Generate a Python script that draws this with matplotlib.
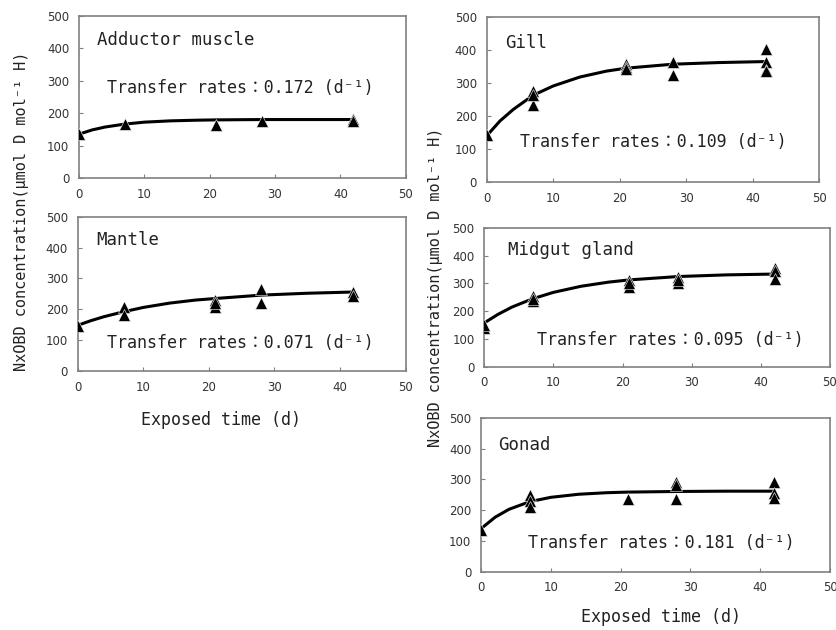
import matplotlib
matplotlib.use("Agg")
import matplotlib.pyplot as plt

# measured replicates (day, concentration)
adductor_t = [0, 7, 21, 28, 42, 42]
adductor_c = [134, 165, 162, 176, 181, 174]
gill_t = [0, 7, 7, 7, 21, 21, 21, 28, 28, 42, 42, 42, 42]
gill_c = [141, 277, 234, 264, 359, 350, 342, 364, 323, 404, 365, 340, 337]
mantle_t = [0, 7, 7, 21, 21, 21, 28, 28, 42, 42]
mantle_c = [145, 207, 183, 230, 207, 220, 266, 222, 257, 244]
midgut_t = [0, 0, 7, 7, 7, 21, 21, 21, 28, 28, 28, 42, 42, 42]
midgut_c = [140, 152, 254, 236, 244, 314, 289, 302, 323, 302, 313, 355, 344, 316]
gonad_t = [0, 7, 7, 7, 21, 28, 28, 28, 42, 42, 42]
gonad_c = [136, 249, 231, 210, 237, 292, 281, 235, 291, 257, 240]

# fitted curves
fit_t = [0, 2, 4, 7, 10, 14, 18, 21, 28, 35, 42]
adductor_fit = [135, 148, 157, 166, 172, 176, 178, 179, 180, 180, 180]
gill_fit = [140, 185, 220, 263, 291, 318, 336, 345, 357, 362, 365]
mantle_fit = [148, 163, 176, 192, 206, 220, 230, 235, 246, 252, 256]
midgut_fit = [158, 189, 215, 245, 268, 290, 305, 313, 325, 331, 334]
gonad_fit = [140, 177, 203, 228, 242, 252, 257, 259, 261, 262, 262]

rates = ["0.172", "0.109", "0.071", "0.095", "0.181"]
tissues = ["Adductor muscle", "Gill", "Mantle", "Midgut gland", "Gonad"]

mono = ["DejaVu Sans Mono", "Noto Sans CJK JP"]
tickfont = ["Liberation Sans Narrow", "DejaVu Sans"]

fig = plt.figure(figsize=(8.37, 6.30), dpi=100)

panels = [
    ([0.0944, 0.7175, 0.3903, 0.2576], adductor_t, adductor_c, adductor_fit, (2.75, 425), (4.3, 277)),
    ([0.5815, 0.7111, 0.3970, 0.2619], gill_t, gill_c, gill_fit, (2.75, 421), (5.0, 121)),
    ([0.0928, 0.4111, 0.3919, 0.2449], mantle_t, mantle_c, mantle_fit, (2.9, 424), (4.5, 91)),
    ([0.5786, 0.4179, 0.4130, 0.2202], midgut_t, midgut_c, midgut_fit, (3.4, 420), (7.6, 96)),
    ([0.5747, 0.0925, 0.4170, 0.2440], gonad_t, gonad_c, gonad_fit, (2.4, 412), (6.7, 93)),
]

for i, (rect, t, c, fit, name_xy, rate_xy) in enumerate(panels):
    ax = fig.add_axes(rect)
    ax.plot(t, c, linestyle="none", marker="^", ms=8, mfc="black", mec="white", mew=0.4, zorder=3)
    ax.plot(fit_t, fit, color="black", lw=2.2, zorder=2)
    ax.set_xlim(0, 50)
    ax.set_ylim(0, 500)
    ax.set_xticks(range(0, 51, 10))
    ax.set_yticks(range(0, 501, 100))
    ax.tick_params(direction="in", length=3, width=0.8, color="#808080",
                   labelsize=8.5, labelcolor="#333333")
    ax.tick_params(axis="x", pad=7)
    ax.tick_params(axis="y", pad=7)
    for lab in ax.get_xticklabels() + ax.get_yticklabels():
        lab.set_family(tickfont)
    for s in ax.spines.values():
        s.set_color("#808080")
        s.set_linewidth(1.2)
    ax.text(name_xy[0], name_xy[1], tissues[i], family=mono, fontsize=12.5,
            va="center", ha="left", color="#222222")
    ax.text(rate_xy[0], rate_xy[1], "Transfer rates：" + rates[i] + " (d⁻¹)",
            family=mono, fontsize=12, va="center", ha="left", color="#222222")

ylab = "NxOBD concentration(μmol D mol⁻¹ H)"
fig.text(22 / 837, 1 - 211 / 630, ylab, rotation=90, family=mono, fontsize=11,
         ha="center", va="center", color="#222222")
fig.text(436 / 837, 1 - 287 / 630, ylab, rotation=90, family=mono, fontsize=11,
         ha="center", va="center", color="#222222")
fig.text(221 / 837, 1 - 420 / 630, "Exposed time (d)", family=mono, fontsize=12,
         ha="center", va="center", color="#222222")
fig.text(661 / 837, 1 - 617 / 630, "Exposed time (d)", family=mono, fontsize=12,
         ha="center", va="center", color="#222222")

fig.savefig("out.png", dpi=100)
